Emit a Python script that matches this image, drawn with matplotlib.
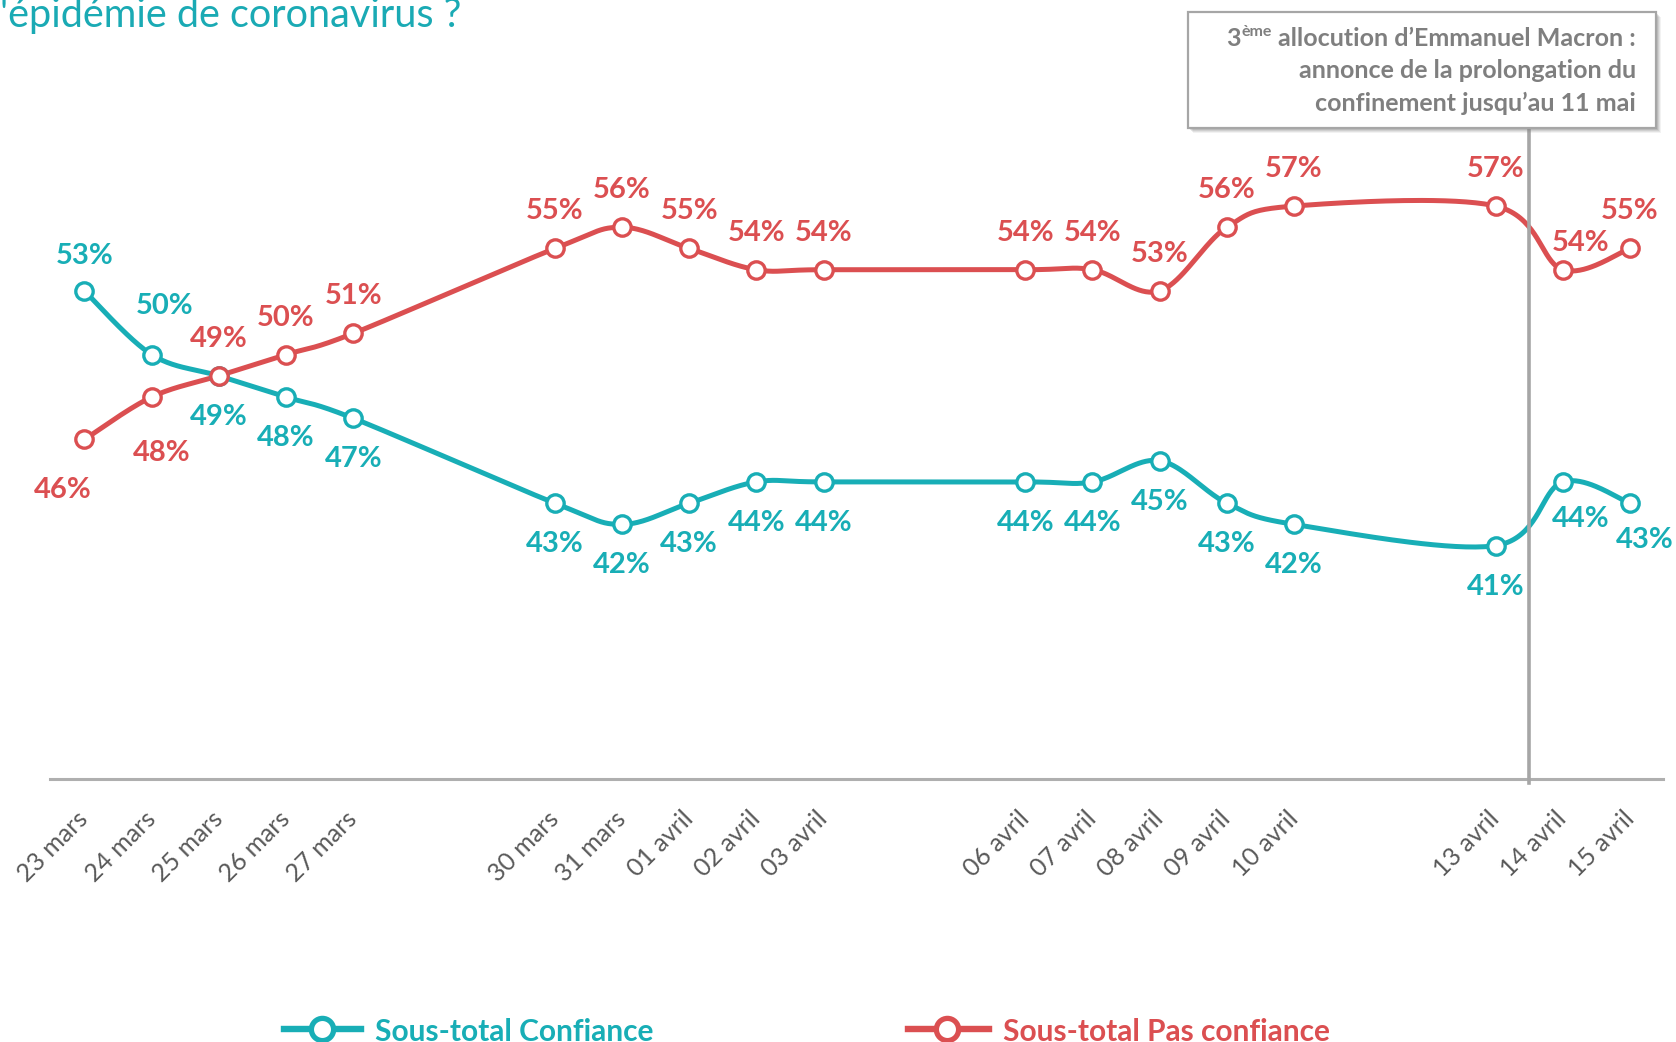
import matplotlib
matplotlib.use('Agg')
import matplotlib.pyplot as plt
import matplotlib.dates as mdates
from matplotlib.patches import Rectangle
from matplotlib.lines import Line2D
import numpy as np
import datetime as dt

# ---------------- data ----------------
dates = ['2020-03-23', '2020-03-24', '2020-03-25', '2020-03-26', '2020-03-27',
         '2020-03-30', '2020-03-31', '2020-04-01', '2020-04-02', '2020-04-03',
         '2020-04-06', '2020-04-07', '2020-04-08', '2020-04-09', '2020-04-10',
         '2020-04-13', '2020-04-14', '2020-04-15']
tick_labels = ['23 mars', '24 mars', '25 mars', '26 mars', '27 mars',
               '30 mars', '31 mars', '01 avril', '02 avril', '03 avril',
               '06 avril', '07 avril', '08 avril', '09 avril', '10 avril',
               '13 avril', '14 avril', '15 avril']
confiance = [53, 50, 49, 48, 47, 43, 42, 43, 44, 44, 44, 44, 45, 43, 42, 41, 44, 43]
pas_confiance = [46, 48, 49, 50, 51, 55, 56, 55, 54, 54, 54, 54, 53, 56, 57, 57, 54, 55]
series_names = ['Sous-total Confiance', 'Sous-total Pas confiance']
event_time = '2020-04-13 12:00'
event_sup = 'ème'
event_lines = ['allocution d\u2019Emmanuel Macron :',
               'annonce de la prolongation du',
               'confinement jusqu\u2019au 11 mai']
title_text = "'épidémie de coronavirus ?"

# ---------------- styles ----------------
TEAL = '#18AEB6'
RED = '#DB4F51'
GREY_TXT = '#7F7F7F'
TICK_COL = '#595959'
FONT = 'Lato'
W, H = 1676, 1042

# label offsets in pixels (dx, dy), y up
off_conf = [(0, 35), (13, 49)] + [(0, -41)] * 14 + [(18, -37), (15, -37)]
off_pas = [(-22, -51), (10, -56)] + [(0, 37)] * 14 + [(18, 27), (0, 37)]

plt.rcParams['font.family'] = [FONT, 'DejaVu Sans']

fig = plt.figure(figsize=(W / 100, H / 100), dpi=100)
fig.patch.set_facecolor('white')


def fx(px):
    return px / W


def fy(py):
    return 1 - py / H


ax_left, ax_right, ax_bottom = 50, 1663, 779
ax = fig.add_axes([fx(ax_left), fy(ax_bottom), fx(ax_right - ax_left), 1 - fy(ax_bottom)])
ax.set_facecolor('none')

xd = mdates.date2num([dt.datetime.fromisoformat(d) for d in dates])
ax.set_xlim(xd[0] - 0.512, xd[-1] + 0.49)
ax.set_ylim(30, 66.71)


def excel_smooth(x, y, n=40):
    x = np.asarray(x, float)
    y = np.asarray(y, float)
    P = np.column_stack([x, y])
    out = [P[0]]
    N = len(P)
    for i in range(N - 1):
        p0 = P[i - 1] if i > 0 else P[i]
        p1 = P[i]
        p2 = P[i + 1]
        p3 = P[i + 2] if i + 2 < N else P[i + 1]
        c1 = p1 + (p2 - p0) / 6.0
        c2 = p2 - (p3 - p1) / 6.0
        t = np.linspace(0, 1, n)[1:, None]
        seg = ((1 - t) ** 3) * p1 + 3 * ((1 - t) ** 2) * t * c1 + 3 * (1 - t) * t ** 2 * c2 + t ** 3 * p2
        out.extend(seg)
    out = np.array(out)
    return out[:, 0], out[:, 1]


for vals, col, offs in [(confiance, TEAL, off_conf), (pas_confiance, RED, off_pas)]:
    sx, sy = excel_smooth(xd, vals)
    ax.plot(sx, sy, color=col, lw=3.6, solid_capstyle='round', zorder=3, clip_on=False)
    ax.plot(xd, vals, ls='none', marker='o', ms=12.5, mfc='white', mec=col, mew=2.4,
            zorder=6, clip_on=False)
    for x, v, (dx, dy) in zip(xd, vals, offs):
        ax.annotate(f'{v}%', (x, v), xytext=(dx, dy), textcoords='offset pixels',
                    ha='center', va='center', fontsize=21, fontweight='bold',
                    color=col, zorder=7, annotation_clip=False)

# event line
xe = mdates.date2num(dt.datetime.fromisoformat(event_time))
ax.plot([xe, xe], [29.8, 60.7], color='#A6A6A6', lw=2.6, zorder=5, clip_on=False)

# axes styling
for s in ['top', 'right', 'left']:
    ax.spines[s].set_visible(False)
ax.spines['bottom'].set_color('#AFAFAF')
ax.spines['bottom'].set_linewidth(2.2)
ax.set_yticks([])
ax.set_xticks(xd)
ax.set_xticklabels(tick_labels, rotation=45, ha='right', va='center',
                   rotation_mode='anchor', fontsize=18, color=TICK_COL)
ax.tick_params(axis='x', length=0, pad=26)

# title (partially visible)
fig.text(0.0, fy(27), title_text, ha='left', va='baseline', fontsize=28.5,
         color='#1AAAB4')

# annotation box with shadow
bx0, by0, bx1, by1 = 1188, 12, 1656, 128
for k, a in [(5, 0.10), (4, 0.14), (3, 0.18), (2, 0.22)]:
    fig.add_artist(Rectangle((fx(bx0 + k), fy(by1 + k)), fx(bx1 - bx0), (by1 - by0) / H,
                             transform=fig.transFigure, facecolor='#808080', alpha=a,
                             edgecolor='none', zorder=8))
fig.add_artist(Rectangle((fx(bx0), fy(by1)), fx(bx1 - bx0), (by1 - by0) / H,
                         transform=fig.transFigure, facecolor='white',
                         edgecolor='#A6A6A6', lw=1.6, zorder=9))
tx = 1636
line_y = [39, 71, 103]
texts = []
for ln, yy in zip(event_lines, line_y):
    t = fig.text(fx(tx), fy(yy), ln, ha='right', va='center', fontsize=18,
                 fontweight='bold', color=GREY_TXT, zorder=10)
    texts.append(t)

fig.canvas.draw()
r = fig.canvas.get_renderer()
bb = texts[0].get_window_extent(r)
gap = 6
t_sup = fig.text((bb.x0 - gap) / W, fy(line_y[0] - 7), event_sup, ha='right', va='center',
                 fontsize=11.5, fontweight='bold', color=GREY_TXT, zorder=10)
fig.canvas.draw()
bb2 = t_sup.get_window_extent(r)
fig.text((bb2.x0 - 1) / W, fy(line_y[0]), '3', ha='right', va='center', fontsize=18,
         fontweight='bold', color=GREY_TXT, zorder=10)

# legend (bottom, partly cut)
leg_y = 1029
for (x0, x1, xc, xt), col, name in [((284, 361, 322, 375), TEAL, series_names[0]),
                                    ((908, 989, 947, 1003), RED, series_names[1])]:
    fig.add_artist(Line2D([fx(x0), fx(x1)], [fy(leg_y), fy(leg_y)], transform=fig.transFigure,
                          color=col, lw=4.6))
    fig.add_artist(Line2D([fx(xc)], [fy(leg_y)], transform=fig.transFigure, ls='none',
                          marker='o', ms=16, mfc='white', mec=col, mew=3.8))
    fig.text(fx(xt), fy(leg_y + 3), name, ha='left', va='center', fontsize=21.5,
             fontweight='bold', color=col)

fig.savefig('out.png', dpi=100, facecolor='white')
